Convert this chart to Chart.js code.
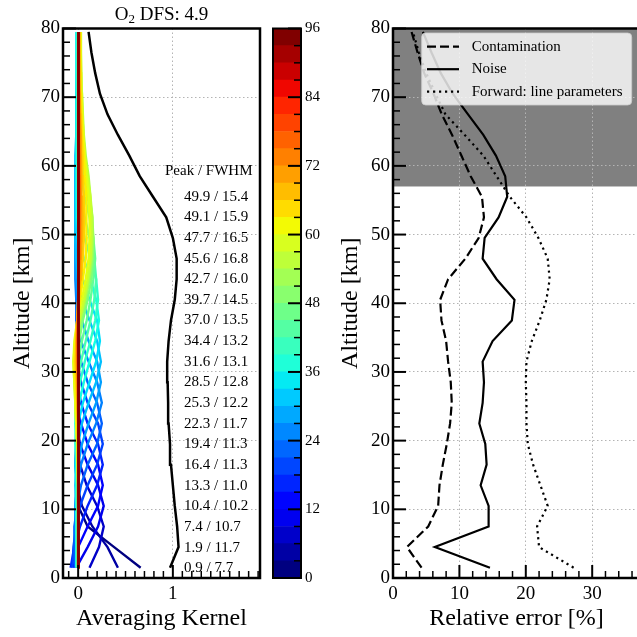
<!DOCTYPE html>
<html>
<head>
<meta charset="utf-8">
<title>O2 averaging kernels and errors</title>
<script src="https://cdn.jsdelivr.net/npm/chart.js@4.4.1/dist/chart.umd.min.js"></script>
<style>
  html, body { margin: 0; padding: 0; background: #fff; overflow: hidden; }
  body { width: 637px; height: 637px; position: relative; }
  canvas { position: absolute; top: 0; }
  #ak { left: 0; }
  #err { left: 330px; }
  #cbar { left: 263px; }
</style>
</head>
<body>
<canvas id="ak" width="263" height="637"></canvas>
<canvas id="err" width="311" height="637"></canvas>
<canvas id="cbar" width="77" height="637"></canvas>
<script>
// retrieval altitude grid [km]
var altGrid = [1.5, 4.5, 7.5, 10.5, 13.5, 16.5, 19.5, 22.5, 25.5, 28.5, 31.5, 34.5, 37.5, 40.5,
  43.5, 46.5, 49.5, 52.5, 55.5, 58.5, 61.5, 64.5, 67.5, 70.5, 73.5, 76.5, 79.5];

// nominal level of every kernel row (colour bar value)
var akLevels = [0, 3, 6, 9, 12, 15, 18, 21, 24, 27, 30, 33, 36, 39, 42, 45, 48, 51, 54, 57, 60,
  63, 66, 69, 72, 75, 78, 81, 84, 87, 90, 93, 96];

// averaging kernel rows, one value per altitude of altGrid
var akRows = [
  [0.66,0.38,0.10,0.00,-0.02,-0.02,-0.01,-0.01,-0.01, 0,0,0,0,0,0,0,0,0, 0,0,0,0,0,0,0,0,0],
  [0.42,0.31,0.15,0.04,-0.01,-0.03,-0.02,-0.01,-0.01, -0.01,0,0,0,0,0,0,0,0, 0,0,0,0,0,0,0,0,0],
  [0.12,0.22,0.27,0.20,0.09,0.02,-0.02,-0.02,-0.01, -0.01,0,0,0,0,0,0,0,0, 0,0,0,0,0,0,0,0,0],
  [-0.02,0.10,0.21,0.27,0.21,0.10,0.02,-0.02,-0.02, -0.01,-0.01,0,0,0,0,0,0,0, 0,0,0,0,0,0,0,0,0],
  [-0.05,0.00,0.10,0.21,0.26,0.21,0.10,0.03,-0.02, -0.02,-0.01,-0.01,0,0,0,0,0,0, 0,0,0,0,0,0,0,0,0],
  [-0.08,-0.04,0.02,0.10,0.20,0.26,0.21,0.10,0.03, -0.01,-0.02,-0.01,-0.01,0,0,0,0,0, 0,0,0,0,0,0,0,0,0],
  [-0.06,-0.05,-0.02,0.02,0.10,0.20,0.26,0.21,0.10, 0.03,-0.01,-0.02,-0.01,-0.01,0,0,0,0, 0,0,0,0,0,0,0,0,0],
  [-0.03,-0.04,-0.04,-0.01,0.03,0.10,0.20,0.25,0.20, 0.10,0.03,-0.01,-0.02,-0.02,-0.01,-0.01,0,0, 0,0,0,0,0,0,0,0,0],
  [-0.02,-0.02,-0.03,-0.03,-0.01,0.03,0.10,0.19,0.25, 0.20,0.11,0.03,-0.01,-0.02,-0.03,-0.03,-0.03,-0.03, -0.03,-0.02,-0.02,-0.01,-0.01,0,0,0,0],
  [-0.01,-0.01,-0.02,-0.03,-0.02,0.00,0.04,0.11,0.19, 0.24,0.20,0.11,0.04,0.00,-0.02,-0.03,-0.03,-0.03, -0.03,-0.03,-0.02,-0.02,-0.01,-0.01,-0.01,0,0],
  [0.00,-0.01,-0.01,-0.02,-0.03,-0.02,0.00,0.04,0.11, 0.19,0.24,0.20,0.12,0.04,0.00,-0.02,-0.03,-0.03, -0.03,-0.03,-0.03,-0.02,-0.02,-0.02,-0.01,-0.01,-0.01],
  [0.00,0.00,-0.01,-0.01,-0.02,-0.03,-0.02,0.00,0.05, 0.12,0.19,0.23,0.20,0.12,0.05,0.01,-0.01,-0.02, -0.02,-0.02,-0.02,-0.02,-0.02,-0.02,-0.02,-0.015,-0.015],
  [-0.02,-0.02,-0.02,-0.02,-0.02,-0.02,-0.03,-0.02,0.01, 0.06,0.12,0.18,0.22,0.19,0.13,0.06,0.01,-0.01, -0.015,-0.015,-0.015,-0.015,-0.015,-0.015,-0.015,-0.015,-0.015],
  [0,0,0,0,-0.01,-0.01,-0.02,-0.03,-0.02, 0.02,0.07,0.13,0.18,0.21,0.19,0.13,0.07,0.02, 0.00,-0.01,-0.01,-0.01,-0.01,-0.01,-0.01,-0.01,-0.01],
  [0,0,0,0,0,-0.01,-0.02,-0.02,-0.03, -0.01,0.03,0.08,0.13,0.17,0.19,0.17,0.12,0.07, 0.03,0.01,0,0,0,0,0,0,0],
  [0,0,0,0,0,0,-0.01,-0.02,-0.03, -0.02,0.00,0.04,0.09,0.13,0.16,0.18,0.16,0.12, 0.07,0.03,0.01,0,0,0,0,0,0],
  [0,0,0,0,0,0,-0.01,-0.02,-0.03, -0.03,-0.02,0.01,0.05,0.10,0.14,0.16,0.16,0.14, 0.10,0.06,0.03,0.01,0.01,0,0,0,0],
  [0,0,0,0,0,0,-0.01,-0.02,-0.03, -0.03,-0.03,-0.01,0.03,0.08,0.12,0.15,0.16,0.15, 0.12,0.09,0.06,0.04,0.03,0.02,0.01,0.01,0.01],
  [0,0,0,0,0,-0.01,-0.01,-0.02,-0.02, -0.04,-0.04,-0.02,0.02,0.07,0.11,0.14,0.15,0.15, 0.13,0.11,0.08,0.06,0.05,0.04,0.03,0.03,0.02],
  [0,0,0,0,0,-0.01,-0.01,-0.02,-0.03, -0.04,-0.05,-0.03,0.01,0.06,0.10,0.13,0.14,0.14, 0.13,0.10,0.07,0.055,0.045,0.04,0.035,0.03,0.03],
  [0,0,0,0,0,0,-0.01,-0.02,-0.03, -0.04,-0.05,-0.04,-0.01,0.04,0.08,0.11,0.12,0.12, 0.11,0.09,0.07,0.055,0.045,0.035,0.03,0.025,0.025],
  [0,0,0,0,0,0,0,-0.01,-0.02, -0.03,-0.04,-0.03,-0.01,0.02,0.05,0.08,0.09,0.09, 0.085,0.07,0.06,0.045,0.035,0.03,0.025,0.02,0.02],
  [0,0,0,0,0,0,0,0,-0.01, -0.02,-0.03,-0.02,-0.01,0.01,0.03,0.05,0.06,0.065, 0.06,0.05,0.045,0.035,0.03,0.025,0.02,0.015,0.015],
  [0,0,0,0,0,0,0,0,-0.01, -0.01,-0.02,-0.02,-0.01,0.00,0.02,0.03,0.04,0.045, 0.04,0.035,0.03,0.025,0.02,0.015,0.01,0.01,0.01],
  [0,0,0,0,0,0,0,0,0, -0.01,-0.01,-0.01,-0.01,0.00,0.01,0.02,0.025,0.03, 0.03,0.025,0.02,0.02,0.015,0.01,0.01,0.01,0.01],
  [0,0,0,0,0,0,0,0,0, 0,-0.01,-0.01,0,0,0.005,0.01,0.015,0.02, 0.02,0.015,0.015,0.01,0.01,0.01,0.005,0.005,0.005],
  [0,0,0,0,0,0,0,0,0, 0,0,-0.005,0,0,0,0.005,0.01,0.01, 0.01,0.01,0.01,0.005,0.005,0.005,0.005,0.005,0.005],
  [0,0,0,0,0,0,0,0,0, 0,0,0,0,0,0,0.005,0.005,0.005, 0.005,0.005,0.005,0.005,0.005,0.005,0.005,0.005,0.005],
  [0.003,0.003,0.003,0.003,0.003,0.003,0.003,0.003,0.003, 0.003,0.003,0.003,0.003,0.003,0.003,0.003,0.003,0.003, 0.003,0.003,0.003,0.003,0.003,0.003,0.003,0.003,0.003],
  [0.003,0.003,0.003,0.003,0.003,0.003,0.003,0.003,0.003, 0.003,0.003,0.003,0.003,0.003,0.003,0.004,0.004,0.004, 0.004,0.004,0.004,0.004,0.004,0.004,0.004,0.004,0.004],
  [0.004,0.004,0.004,0.004,0.004,0.004,0.004,0.004,0.004, 0.004,0.004,0.004,0.004,0.004,0.004,0.004,0.004,0.004, 0.004,0.004,0.004,0.004,0.004,0.004,0.004,0.004,0.004],
  [0.004,0.004,0.004,0.004,0.004,0.004,0.004,0.004,0.004, 0.004,0.004,0.004,0.004,0.004,0.004,0.004,0.004,0.004, 0.004,0.004,0.004,0.004,0.004,0.004,0.004,0.004,0.004],
  [0.004,0.004,0.004,0.004,0.004,0.004,0.004,0.004,0.004, 0.004,0.004,0.004,0.004,0.004,0.004,0.004,0.004,0.004, 0.004,0.004,0.004,0.004,0.004,0.004,0.004,0.004,0.004]
];

// row sum of the kernel (black line)
var akSum = [0.97, 1.06, 1.045, 1.02, 1.00, 0.98, 0.97, 0.955, 0.95, 0.945, 0.94, 0.955, 0.98, 1.02,
  1.04, 1.04, 1.00, 0.93, 0.79, 0.65, 0.54, 0.42, 0.31, 0.23, 0.18, 0.14, 0.11];

// text column: peak altitude / FWHM [km]
var akPeak = [49.9, 49.1, 47.7, 45.6, 42.7, 39.7, 37.0, 34.4, 31.6, 28.5, 25.3, 22.3, 19.4, 16.4, 13.3, 10.4, 7.4, 1.9, 0.9];
var akFwhm = [15.4, 15.9, 16.5, 16.8, 16.0, 14.5, 13.5, 13.2, 13.1, 12.8, 12.2, 11.7, 11.3, 11.3, 11.0, 10.2, 10.7, 11.7, 7.7];
var dfsValue = 4.9;

// relative errors [%] on altGrid
var errContam = [4.3, 2.1, 5.3, 6.8, 7.0, 7.5, 8.1, 8.6, 8.85, 8.7, 8.3, 8.0, 7.3, 7.1, 8.3, 10.9, 12.9, 13.7,
  13.4, 11.7, 10.3, 8.9, 7.35, 6.1, 4.7, 3.7, 2.8];
var errNoise = [14.6, 6.3, 14.4, 14.4, 13.2, 14.1, 13.9, 13.0, 13.5, 13.7, 13.5, 15.0, 17.9, 18.3, 15.6, 13.5, 13.8, 15.9,
  17.2, 16.9, 15.5, 13.6, 11.3, 9.0, 7.2, 5.8, 4.5];
var errForward = [27.2, 22.0, 21.7, 23.3, 22.2, 21.1, 20.3, 20.1, 20.1, 20.0, 20.1, 20.9, 22.1, 23.1, 23.6, 23.3, 21.9, 20.1,
  17.6, 15.6, 13.6, 10.8, 7.9, 6.4, 5.0, 3.9, 3.0];
var errLabels = ['Contamination', 'Noise', 'Forward: line parameters'];
var shadeFrom = 57; // grey box above this altitude

var SERIF = "'Liberation Serif', 'Times New Roman', serif";
Chart.defaults.font.family = SERIF;
Chart.defaults.color = '#000';
Chart.defaults.animation = false;

// matplotlib jet
function jet(t) {
  function seg(pts) {
    for (var i = 1; i < pts.length; i++) {
      if (t <= pts[i][0]) {
        var p0 = pts[i - 1], p1 = pts[i];
        return p0[1] + (p1[1] - p0[1]) * (t - p0[0]) / (p1[0] - p0[0]);
      }
    }
    return pts[pts.length - 1][1];
  }
  var r = seg([[0, 0], [0.35, 0], [0.66, 1], [0.89, 1], [1, 0.5]]);
  var g = seg([[0, 0], [0.125, 0], [0.375, 1], [0.64, 1], [0.91, 0], [1, 0]]);
  var b = seg([[0, 0.5], [0.11, 1], [0.34, 1], [0.65, 0], [1, 0]]);
  return 'rgb(' + Math.round(r * 255) + ',' + Math.round(g * 255) + ',' + Math.round(b * 255) + ')';
}

// inward tick marks along one side of the plot area
function innerTicks(ctx, scale, side, minor, major, a) {
  var k0 = Math.ceil(scale.min / minor - 1e-6), k1 = Math.floor(scale.max / minor + 1e-6);
  for (var k = k0; k <= k1; k++) {
    var v = k * minor;
    var isMajor = Math.abs(v / major - Math.round(v / major)) < 1e-6;
    var len = isMajor ? 13 : 7;
    var p = scale.getPixelForValue(v);
    ctx.lineWidth = isMajor ? 2 : 1.5;
    ctx.beginPath();
    if (side === 'left') { ctx.moveTo(a.left, p); ctx.lineTo(a.left + len, p); }
    if (side === 'right') { ctx.moveTo(a.right, p); ctx.lineTo(a.right - len, p); }
    if (side === 'bottom') { ctx.moveTo(p, a.bottom); ctx.lineTo(p, a.bottom - len); }
    ctx.stroke();
  }
}

function frame(ctx, a, w) {
  ctx.lineWidth = w;
  ctx.strokeStyle = '#000';
  ctx.strokeRect(a.left, a.top, a.right - a.left, a.bottom - a.top);
}

var gridStyle = { color: '#b4b4b4', lineWidth: 1, drawTicks: false };
var borderStyle = { display: false, dash: [1.5, 2.5] };
var tickFont = { size: 19 };
var titleFont = { size: 24 };

// ---------- averaging kernels ----------
var akDatasets = akRows.map(function (row, k) {
  return {
    data: row.map(function (v, i) { return { x: v, y: altGrid[i] }; }),
    borderColor: jet(akLevels[k] / 96),
    borderWidth: 2.4,
    pointRadius: 0,
    showLine: true,
    order: akRows.length - k
  };
});
akDatasets.push({
  data: akSum.map(function (v, i) { return { x: v, y: altGrid[i] }; }),
  borderColor: '#000',
  borderWidth: 2.5,
  pointRadius: 0,
  showLine: true,
  order: 0
});

var akPlugin = {
  id: 'akDecor',
  afterDatasetsDraw: function (chart) {
    var ctx = chart.ctx, a = chart.chartArea;
    ctx.save();
    // Peak / FWHM column
    ctx.fillStyle = '#000';
    ctx.textBaseline = 'middle';
    ctx.textAlign = 'left';
    ctx.font = '15px ' + SERIF;
    ctx.fillText('Peak / FWHM', a.left + 102, a.top + 143);
    for (var i = 0; i < akPeak.length; i++) {
      ctx.fillText(akPeak[i].toFixed(1) + ' / ' + akFwhm[i].toFixed(1), a.left + 121, a.top + 168.2 + i * 20.64);
    }
    // title with subscript
    var big = '19px ' + SERIF, small = '13px ' + SERIF;
    var rest = ' DFS: ' + dfsValue.toFixed(1);
    ctx.font = big;
    var wO = ctx.measureText('O').width, wR = ctx.measureText(rest).width;
    ctx.font = small;
    var w2 = ctx.measureText('2').width;
    var x = (a.left + a.right) / 2 - (wO + w2 + wR) / 2;
    ctx.textBaseline = 'alphabetic';
    ctx.font = big; ctx.fillText('O', x, 20);
    ctx.font = small; ctx.fillText('2', x + wO, 23);
    ctx.font = big; ctx.fillText(rest, x + wO + w2, 20);
    // ticks and frame
    ctx.strokeStyle = '#000';
    innerTicks(ctx, chart.scales.y, 'left', 2, 10, a);
    innerTicks(ctx, chart.scales.x, 'bottom', 0.1, 1, a);
    frame(ctx, a, 2.5);
    ctx.restore();
  }
};

new Chart(document.getElementById('ak'), {
  type: 'scatter',
  data: { datasets: akDatasets },
  options: {
    responsive: false,
    layout: { padding: { top: 28.5, right: 3, left: 0, bottom: 0 } },
    plugins: { legend: { display: false }, tooltip: { enabled: false } },
    scales: {
      x: {
        type: 'linear', min: -0.16, max: 1.92,
        grid: gridStyle, border: borderStyle,
        ticks: { font: tickFont, padding: 5 },
        afterBuildTicks: function (s) { s.ticks = [{ value: 0 }, { value: 1 }]; },
        afterFit: function (s) { s.height = 59; },
        title: { display: true, text: 'Averaging Kernel', font: titleFont, padding: { top: 0, bottom: 4 } }
      },
      y: {
        type: 'linear', min: 0, max: 80,
        grid: gridStyle, border: borderStyle,
        ticks: { font: tickFont, stepSize: 10, padding: 3 },
        afterFit: function (s) { s.width = 63; },
        title: { display: true, text: 'Altitude [km]', font: titleFont, padding: { top: 8, bottom: 0 } }
      }
    }
  },
  plugins: [akPlugin]
});

// ---------- colour bar ----------
var cbarDatasets = [];
for (var j = 0; j < akLevels.length - 1; j++) {
  cbarDatasets.push({
    data: [akLevels[j + 1] - akLevels[j]],
    backgroundColor: jet(j / (akLevels.length - 2)),
    borderWidth: 0,
    barPercentage: 1,
    categoryPercentage: 1
  });
}

var cbarPlugin = {
  id: 'cbarDecor',
  afterDatasetsDraw: function (chart) {
    var ctx = chart.ctx, a = chart.chartArea;
    ctx.save();
    ctx.strokeStyle = '#000';
    innerTicks(ctx, chart.scales.y, 'right', 3, 12, a);
    frame(ctx, a, 2);
    ctx.restore();
  }
};

new Chart(document.getElementById('cbar'), {
  type: 'bar',
  data: { labels: ['level'], datasets: cbarDatasets },
  options: {
    responsive: false,
    layout: { padding: { top: 28.5, left: 10, right: 0, bottom: 59 } },
    plugins: { legend: { display: false }, tooltip: { enabled: false } },
    scales: {
      x: { stacked: true, display: false },
      y: {
        stacked: true, position: 'right', min: 0, max: 96,
        grid: { display: false, drawTicks: false }, border: { display: false },
        ticks: { stepSize: 12, font: { size: 15 }, padding: 4 },
        afterFit: function (s) { s.width = 39; }
      }
    }
  },
  plugins: [cbarPlugin]
});

// ---------- relative errors ----------
function errSet(vals, dash) {
  return {
    data: vals.map(function (v, i) { return { x: v, y: altGrid[i] }; }),
    borderColor: '#000',
    borderWidth: 2.2,
    borderDash: dash,
    pointRadius: 0,
    showLine: true
  };
}
var errDashes = [[9, 4], [], [2.2, 3.8]];

var errPlugin = {
  id: 'errDecor',
  beforeDraw: function (chart) {
    var ctx = chart.ctx, a = chart.chartArea, y = chart.scales.y;
    ctx.save();
    ctx.fillStyle = '#808080';
    var top = y.getPixelForValue(y.max), bot = y.getPixelForValue(shadeFrom);
    ctx.fillRect(a.left, top, a.right - a.left, bot - top);
    ctx.restore();
  },
  afterDatasetsDraw: function (chart) {
    var ctx = chart.ctx, a = chart.chartArea;
    ctx.save();
    // legend box
    var bx = a.left + 28.7, by = a.top + 4.5, bw = 210, bh = 72;
    ctx.beginPath();
    ctx.roundRect(bx, by, bw, bh, 4);
    ctx.fillStyle = 'rgba(255,255,255,0.8)';
    ctx.fill();
    ctx.lineWidth = 1;
    ctx.strokeStyle = 'rgba(204,204,204,0.8)';
    ctx.stroke();
    ctx.font = '15px ' + SERIF;
    ctx.textBaseline = 'middle';
    ctx.textAlign = 'left';
    for (var i = 0; i < errLabels.length; i++) {
      var ly = a.top + 18.2 + i * 22.5;
      ctx.strokeStyle = '#000';
      ctx.lineWidth = 2.2;
      ctx.setLineDash(errDashes[i]);
      ctx.beginPath();
      ctx.moveTo(a.left + 34, ly);
      ctx.lineTo(a.left + 66, ly);
      ctx.stroke();
      ctx.setLineDash([]);
      ctx.fillStyle = '#000';
      ctx.fillText(errLabels[i], a.left + 78.7, ly);
    }
    ctx.strokeStyle = '#000';
    innerTicks(ctx, chart.scales.y, 'left', 2, 10, a);
    innerTicks(ctx, chart.scales.x, 'bottom', 2, 10, a);
    frame(ctx, a, 2.5);
    ctx.restore();
  }
};

new Chart(document.getElementById('err'), {
  type: 'scatter',
  data: {
    datasets: [
      errSet(errContam, errDashes[0]),
      errSet(errNoise, errDashes[1]),
      errSet(errForward, errDashes[2])
    ]
  },
  options: {
    responsive: false,
    layout: { padding: { top: 28.5, right: 1, left: 0, bottom: 0 } },
    plugins: { legend: { display: false }, tooltip: { enabled: false } },
    scales: {
      x: {
        type: 'linear', min: 0, max: 37.2,
        grid: gridStyle, border: borderStyle,
        ticks: { font: tickFont, padding: 5 },
        afterBuildTicks: function (s) { s.ticks = [0, 10, 20, 30].map(function (v) { return { value: v }; }); },
        afterFit: function (s) { s.height = 59; },
        title: { display: true, text: 'Relative error [%]', font: titleFont, padding: { top: 0, bottom: 4 } }
      },
      y: {
        type: 'linear', min: 0, max: 80,
        grid: gridStyle, border: borderStyle,
        ticks: { font: tickFont, stepSize: 10, padding: 3 },
        afterFit: function (s) { s.width = 63; },
        title: { display: true, text: 'Altitude [km]', font: titleFont, padding: { top: 6, bottom: 0 } }
      }
    }
  },
  plugins: [errPlugin]
});
</script>
</body>
</html>
